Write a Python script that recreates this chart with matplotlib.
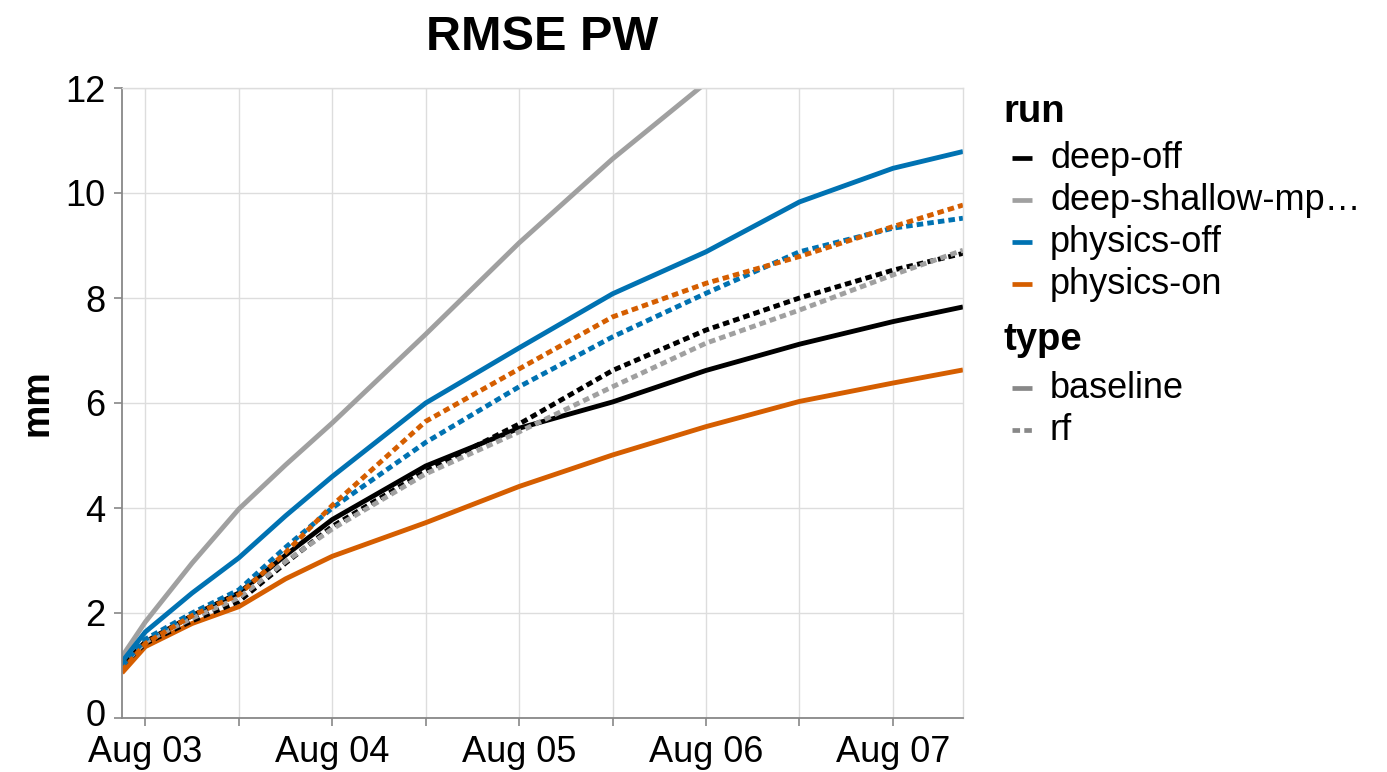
import numpy as np
import pandas as pd
import matplotlib
matplotlib.use('Agg')
import matplotlib.pyplot as plt
import matplotlib.dates as mdates
import matplotlib.transforms as mtransforms
from matplotlib.lines import Line2D
from matplotlib.ticker import FuncFormatter

plt.rcParams['font.family'] = ['Liberation Sans', 'DejaVu Sans']

# forecast valid times
times = pd.to_datetime(['2016-08-02 21:00', '2016-08-03 00:00', '2016-08-03 06:00',
                        '2016-08-03 12:00', '2016-08-03 18:00', '2016-08-04 00:00',
                        '2016-08-04 12:00', '2016-08-05 00:00', '2016-08-05 12:00',
                        '2016-08-06 00:00', '2016-08-06 12:00', '2016-08-07 00:00',
                        '2016-08-07 09:00'])

runs = ['deep-off', 'deep-shallow-mp\u2026', 'physics-off', 'physics-on']
types = ['baseline', 'rf']

# RMSE of PW (mm)
deep_off_baseline = [1.00, 1.45, 1.95, 2.38, 3.10, 3.78, 4.80, 5.52, 6.02, 6.62, 7.12, 7.55, 7.83]
deep_off_rf = [1.00, 1.42, 1.85, 2.22, 2.95, 3.65, 4.70, 5.60, 6.62, 7.39, 8.00, 8.53, 8.85]
deep_shallow_baseline = [1.17, 1.83, 2.95, 3.98, 4.82, 5.62, 7.31, 9.05, 10.65, 12.10, 13.50, 14.80, 15.70]
deep_shallow_rf = [1.00, 1.45, 1.90, 2.29, 2.98, 3.60, 4.65, 5.45, 6.31, 7.14, 7.77, 8.44, 8.91]
physics_off_baseline = [1.07, 1.64, 2.38, 3.05, 3.85, 4.60, 6.00, 7.05, 8.08, 8.88, 9.83, 10.47, 10.79]
physics_off_rf = [1.00, 1.50, 2.00, 2.44, 3.25, 4.00, 5.25, 6.31, 7.26, 8.09, 8.88, 9.33, 9.52]
physics_on_baseline = [0.86, 1.36, 1.80, 2.12, 2.65, 3.08, 3.72, 4.41, 5.01, 5.55, 6.03, 6.38, 6.63]
physics_on_rf = [0.90, 1.42, 1.95, 2.35, 3.15, 4.05, 5.65, 6.65, 7.64, 8.28, 8.79, 9.36, 9.77]

baseline_vals = [deep_off_baseline, deep_shallow_baseline, physics_off_baseline, physics_on_baseline]
rf_vals = [deep_off_rf, deep_shallow_rf, physics_off_rf, physics_on_rf]

colors = ['#000000', '#a0a0a0', '#0072b2', '#d55e00']
dotted = (0, (1.35, 0.85))

W, H = 1387, 772
fig = plt.figure(figsize=(W / 100, H / 100), dpi=100)
ax = fig.add_axes([122 / W, 1 - 718 / H, (963 - 122) / W, (718 - 88) / H])

for i, run in enumerate(runs):
    ax.plot(times, baseline_vals[i], color=colors[i], lw=3.5, solid_capstyle='butt',
            solid_joinstyle='round')
for i, run in enumerate(runs):
    ax.plot(times, rf_vals[i], color=colors[i], lw=3.5, linestyle=dotted, dash_capstyle='butt')

ax.set_xlim(times[0], times[-1])
ax.set_ylim(0, 12)
ax.set_yticks(np.arange(0, 13, 2))

ax.xaxis.set_major_locator(mdates.HourLocator(byhour=[0, 12]))
ax.xaxis.set_major_formatter(FuncFormatter(
    lambda v, pos: mdates.num2date(v).strftime('%b %d') if mdates.num2date(v).hour == 0 else ''))

ax.grid(color='#dddddd', lw=1.0)
ax.set_axisbelow(True)
for s in ['top', 'right']:
    ax.spines[s].set_color('#dddddd')
    ax.spines[s].set_linewidth(1.0)
for s in ['left', 'bottom']:
    ax.spines[s].set_color('#888888')
    ax.spines[s].set_linewidth(1.3)
ax.tick_params(axis='both', direction='out', length=6, width=1.2, color='#888888',
               labelsize=26, labelcolor='black')
ax.tick_params(axis='x', pad=6)
ax.tick_params(axis='y', pad=6)

# lift the "0" label a little so it clears the date labels, as in the original
fig.canvas.draw()
lbl0 = ax.get_yticklabels()[0]
lbl0.set_transform(lbl0.get_transform() + mtransforms.ScaledTranslation(0, 6 / 100, fig.dpi_scale_trans))


def fx(x):
    return x / W


def fy(y):
    return 1 - y / H


fig.text(fx(542), fy(50), 'RMSE PW', fontsize=35, fontweight='bold', ha='center', va='baseline')
fig.text(fx(38), fy(403), 'mm', fontsize=27, fontweight='bold', rotation=90, ha='center', va='center')

# legend: run
fig.text(fx(1003), fy(122), 'run', fontsize=27.5, fontweight='bold', va='baseline')
for i, run in enumerate(runs):
    base = 168 + 42 * i
    fig.add_artist(Line2D([fx(1012), fx(1032)], [fy(base - 10)] * 2, color=colors[i], lw=3.4,
                          solid_capstyle='butt'))
    fig.text(fx(1050), fy(base), run, fontsize=26, va='baseline')

# legend: type
fig.text(fx(1003), fy(350), 'type', fontsize=27.5, fontweight='bold', va='baseline')
for j, t in enumerate(types):
    base = 398 + 42 * j
    ls = '-' if t == 'baseline' else (0, (1.6, 0.9))
    fig.add_artist(Line2D([fx(1012), fx(1032)], [fy(base - 10)] * 2, color='#888888', lw=3.4,
                          linestyle=ls, solid_capstyle='butt', dash_capstyle='butt'))
    fig.text(fx(1050), fy(base), t, fontsize=26, va='baseline')

fig.savefig('out.png', dpi=100)
